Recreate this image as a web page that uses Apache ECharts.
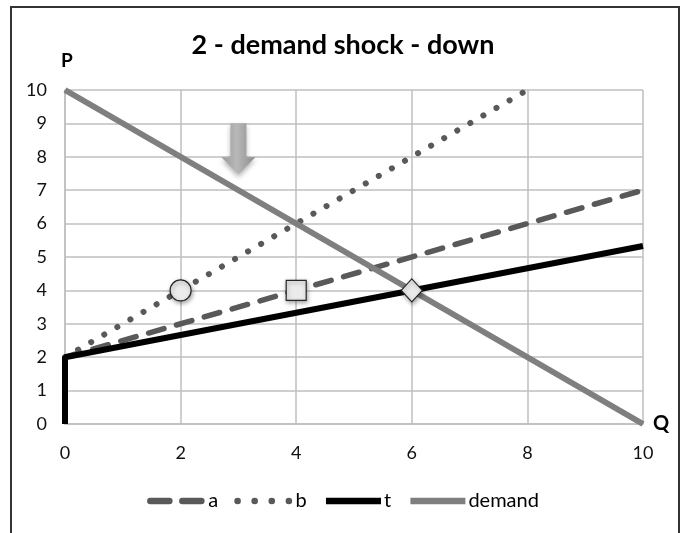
<!DOCTYPE html>
<html>
<head>
<meta charset="utf-8">
<script src="https://cdn.jsdelivr.net/npm/echarts@6/dist/echarts.min.js"></script>
<style>
  html, body { margin: 0; padding: 0; background: #fff; }
  #chart { width: 686px; height: 533px; }
</style>
</head>
<body>
<div id="chart"></div>
<script>
// Supply curves before the shock, the short-run supply, and the new demand curve
const curveA = [[0, 2], [10, 7]];
const curveB = [[0, 2], [8, 10]];
const curveT = [[0, 0], [0, 2], [10, 5.33]];
const demand = [[0, 10], [10, 0]];

// Equilibrium points marked on the curves
const eqCircle = [[2, 4]];
const eqSquare = [[4, 4]];
const eqDiamond = [[6, 4]];

// Position of the shift arrow (centre, in Q/P units)
const shiftArrow = [[3, 8.24]];

// Axis ticks
const qTicks = { min: 0, max: 10, step: 2 };
const pTicks = { min: 0, max: 10, step: 1 };

const FONT = 'Lato, "Open Sans", sans-serif';
const gridGrey = '#bfbfbf';

const chart = echarts.init(document.getElementById('chart'), null, { renderer: 'canvas' });

const markerStyle = {
  color: '#ebebeb',
  opacity: 1,
  borderColor: '#262626',
  borderWidth: 1.2,
  shadowBlur: 4,
  shadowColor: 'rgba(0,0,0,0.35)',
  shadowOffsetX: 1,
  shadowOffsetY: 2
};

chart.setOption({
  animation: false,
  backgroundColor: '#fff',
  title: {
    text: '2 - demand shock - down',
    left: 'center',
    top: 27,
    textStyle: { fontFamily: FONT, fontSize: 27, fontWeight: 'bold', color: '#000' }
  },
  graphic: [{
    type: 'rect',
    shape: { x: 11, y: 7, width: 668, height: 560 },
    style: { fill: 'none', stroke: '#333', lineWidth: 2 },
    silent: true
  }],
  legend: {
    data: [
      { name: 'a', lineStyle: { type: [19, 13], cap: 'round' } },
      { name: 'b', lineStyle: { type: [0.1, 17], cap: 'round' } },
      { name: 't', lineStyle: { cap: 'butt' } },
      { name: 'demand', lineStyle: { cap: 'butt' } }
    ],
    left: 'center',
    top: 486,
    itemWidth: 55,
    itemHeight: 14,
    itemGap: 16,
    itemStyle: { opacity: 0 },
    lineStyle: { width: 6.5 },
    textStyle: { fontFamily: FONT, fontSize: 20, color: '#000', padding: [0, 0, 0, -2] }
  },
  grid: { left: 65, right: 43, top: 90, bottom: 109 },
  xAxis: {
    type: 'value',
    min: qTicks.min, max: qTicks.max, interval: qTicks.step,
    name: 'Q',
    nameLocation: 'end',
    nameGap: 10,
    nameTextStyle: { fontFamily: FONT, fontSize: 20, fontWeight: 'bold', color: '#000', verticalAlign: 'middle', padding: [4, 0, 0, 0] },
    axisLine: { show: true, lineStyle: { color: gridGrey, width: 1.5 } },
    axisTick: { show: false },
    axisLabel: { fontFamily: FONT, fontSize: 18, color: '#111', margin: 20 },
    splitLine: { show: true, lineStyle: { color: gridGrey, width: 1.5 } }
  },
  yAxis: {
    type: 'value',
    min: pTicks.min, max: pTicks.max, interval: pTicks.step,
    name: 'P',
    nameLocation: 'end',
    nameGap: 20,
    nameTextStyle: { fontFamily: FONT, fontSize: 19, fontWeight: 'bold', color: '#000', align: 'left', padding: [0, 0, 0, -4] },
    axisLine: { show: true, lineStyle: { color: gridGrey, width: 1.5 } },
    axisTick: { show: false },
    axisLabel: { fontFamily: FONT, fontSize: 18, color: '#111', margin: 18, padding: [4, 0, 0, 0] },
    splitLine: { show: true, lineStyle: { color: gridGrey, width: 1.5 } }
  },
  series: [
    {
      name: 'a', type: 'line', data: curveA, symbol: 'none', clip: false, z: 3,
      lineStyle: { color: '#595959', width: 5.5, type: [16, 13], cap: 'round' },
      itemStyle: { color: '#595959' }
    },
    {
      name: 'b', type: 'line', data: curveB, symbol: 'none', clip: false, z: 3,
      lineStyle: { color: '#595959', width: 6, type: [0.1, 15], cap: 'round' },
      itemStyle: { color: '#595959' }
    },
    {
      name: 't', type: 'line', data: curveT, symbol: 'none', clip: false, z: 4,
      lineStyle: { color: '#000', width: 6 },
      itemStyle: { color: '#000' }
    },
    {
      name: 'demand', type: 'line', data: demand, symbol: 'none', clip: false, z: 4,
      lineStyle: { color: '#7f7f7f', width: 6 },
      itemStyle: { color: '#7f7f7f' }
    },
    {
      name: 'eq-circle', type: 'scatter', data: eqCircle, symbol: 'circle', symbolSize: 21, z: 6,
      itemStyle: markerStyle
    },
    {
      name: 'eq-square', type: 'scatter', data: eqSquare, symbol: 'rect', symbolSize: 20, z: 6,
      itemStyle: markerStyle
    },
    {
      name: 'eq-diamond', type: 'scatter', data: eqDiamond, symbol: 'diamond', symbolSize: [21, 23], z: 6,
      itemStyle: markerStyle
    },
    {
      name: 'shift', type: 'scatter', data: shiftArrow, z: 5,
      symbol: 'path://M9,0 L25,0 L25,34 L34,34 L17,51 L0,34 L9,34 Z',
      symbolSize: [34, 51],
      symbolKeepAspect: false,
      itemStyle: {
        opacity: 1,
        color: new echarts.graphic.LinearGradient(0, 0, 1, 0, [
          { offset: 0, color: '#9a9a9a' },
          { offset: 0.45, color: '#b8b8b8' },
          { offset: 1, color: '#8c8c8c' }
        ]),
        shadowBlur: 5,
        shadowColor: 'rgba(0,0,0,0.3)',
        shadowOffsetY: 3
      }
    }
  ]
});
</script>
</body>
</html>
